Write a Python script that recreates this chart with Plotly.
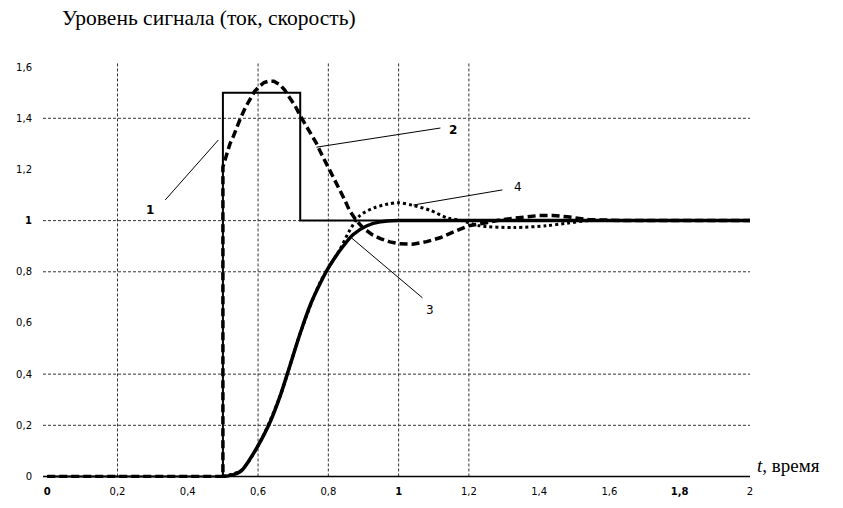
import plotly.graph_objects as go

# Time axis ticks and labels (comma decimal separator)
x_ticks = [0, 0.2, 0.4, 0.6, 0.8, 1.0, 1.2, 1.4, 1.6, 1.8, 2.0]
x_ticktext = ["<b>0</b>", "0,2", "0,4", "0,6", "0,8", "<b>1</b>", "1,2", "1,4", "1,6", "<b>1,8</b>", "2"]
y_ticks = [0, 0.2, 0.4, 0.6, 0.8, 1.0, 1.2, 1.4, 1.6]
y_ticktext = ["0", "0,2", "0,4", "0,6", "0,8", "<b>1</b>", "1,2", "1,4", "1,6"]

# Dotted grid positions
x_grid = [0.2, 0.6, 0.8, 1.0, 1.2]
y_grid = [0.2, 0.4, 0.8, 1.0, 1.4]

# 1 – reference (step forcing)
t1 = [0, 0.5, 0.5, 0.72, 0.72, 2.0]
v1 = [0, 0, 1.5, 1.5, 1.0, 1.0]

# 2 – current
t2 = [0, 0.5, 0.5, 0.51, 0.52, 0.53, 0.54, 0.55, 0.565, 0.578, 0.59, 0.604,
      0.617, 0.63, 0.645, 0.663, 0.676, 0.69, 0.705, 0.72, 0.735, 0.75, 0.765,
      0.777, 0.79, 0.806, 0.82, 0.834, 0.847, 0.86, 0.88, 0.9, 0.925, 0.948,
      0.975, 1.0, 1.04, 1.08, 1.12, 1.15, 1.176, 1.2, 1.25, 1.29, 1.33, 1.37,
      1.40, 1.44, 1.48, 1.54, 1.6, 1.65, 2.0]
v2 = [0, 0, 1.21, 1.26, 1.30, 1.33, 1.37, 1.40, 1.445, 1.48, 1.505, 1.525,
      1.54, 1.545, 1.545, 1.53, 1.51, 1.48, 1.45, 1.41, 1.375, 1.34, 1.305,
      1.27, 1.235, 1.195, 1.157, 1.12, 1.08, 1.04, 1.0, 0.97, 0.945, 0.93,
      0.917, 0.91, 0.908, 0.918, 0.934, 0.952, 0.968, 0.98, 0.992, 1.003, 1.01, 1.016,
      1.02, 1.02, 1.015, 1.004, 1.001, 1.0, 1.0]

# 3 – speed
t3 = [0.5, 0.525, 0.553, 0.578, 0.604, 0.635, 0.663, 0.69, 0.72, 0.75, 0.777,
      0.80, 0.834, 0.87, 0.91, 0.948, 1.0, 1.1, 2.0]
v3 = [0, 0.005, 0.023, 0.07, 0.13, 0.215, 0.315, 0.43, 0.56, 0.675, 0.755,
      0.815, 0.885, 0.945, 0.98, 0.995, 1.0, 1.0, 1.0]

# 4 – speed with overshoot
t4 = [0.5, 0.553, 0.604, 0.663, 0.72, 0.777, 0.834, 0.86, 0.89, 0.93, 0.97,
      1.0, 1.04, 1.09, 1.14, 1.18, 1.23, 1.33, 1.42, 1.48, 1.54, 1.65, 2.0]
v4 = [0, 0.025, 0.13, 0.315, 0.56, 0.76, 0.89, 0.96, 1.02, 1.05, 1.065,
      1.07, 1.06, 1.04, 1.01, 1.0, 0.98, 0.973, 0.98, 0.99, 1.0, 1.0, 1.0]

# Curve labels and leader lines (start -> end)
labels = ["1", "2", "3", "4"]
label_x = [0.293, 1.156, 1.09, 1.341]
label_y = [1.04, 1.354, 0.65, 1.131]
label_bold = [True, True, False, False]
leader_x0 = [0.336, 0.766, 0.863, 1.042]
leader_y0 = [1.081, 1.287, 0.936, 1.061]
leader_x1 = [0.487, 1.119, 1.068, 1.295]
leader_y1 = [1.315, 1.362, 0.698, 1.12]

X_MIN, X_MAX = -0.012, 2.0
Y_MIN, Y_MAX = -0.006, 1.62
SERIF = "Liberation Serif, Times New Roman, DejaVu Serif, serif"

fig = go.Figure()

fig.add_trace(go.Scatter(x=t4, y=v4, mode="lines",
                         line=dict(color="black", width=3, dash="3px,3px",
                                   shape="spline", smoothing=0.8)))
fig.add_trace(go.Scatter(x=t3, y=v3, mode="lines",
                         line=dict(color="black", width=3.5,
                                   shape="spline", smoothing=0.8)))
fig.add_trace(go.Scatter(x=t2, y=v2, mode="lines",
                         line=dict(color="black", width=3.5, dash="8px,4px")))
fig.add_trace(go.Scatter(x=t1, y=v1, mode="lines",
                         line=dict(color="black", width=2)))

shapes = []
for gx in x_grid:
    shapes.append(dict(type="line", xref="x", yref="y", x0=gx, x1=gx, y0=0, y1=Y_MAX,
                       line=dict(color="#333333", width=1, dash="3px,2px"), layer="below"))
for gy in y_grid:
    shapes.append(dict(type="line", xref="x", yref="y", x0=X_MIN, x1=X_MAX, y0=gy, y1=gy,
                       line=dict(color="#333333", width=1, dash="3px,2px"), layer="below"))
# horizontal axis line
shapes.append(dict(type="line", xref="x", yref="y", x0=X_MIN, x1=X_MAX, y0=0, y1=0,
                   line=dict(color="black", width=1.5), layer="below"))
for a, b, c, d in zip(leader_x0, leader_y0, leader_x1, leader_y1):
    shapes.append(dict(type="line", xref="x", yref="y", x0=a, y0=b, x1=c, y1=d,
                       line=dict(color="black", width=1)))

annotations = []
for txt, lx, ly, bold in zip(labels, label_x, label_y, label_bold):
    annotations.append(dict(x=lx, y=ly, xref="x", yref="y", showarrow=False,
                            text=f"<b>{txt}</b>" if bold else txt,
                            font=dict(family="DejaVu Sans", size=12, color="black")))
annotations.append(dict(x=60, y=18, xref="paper", yref="paper", showarrow=False,
                        text="Уровень сигнала (ток, скорость)", xanchor="left", yanchor="middle",
                        font=dict(family=SERIF, size=21.5, color="black")))
annotations.append(dict(x=755, y=465, xref="paper", yref="paper", showarrow=False,
                        text="<i>t</i>, время", xanchor="left", yanchor="middle",
                        font=dict(family=SERIF, size=19, color="black")))

# convert pixel-placed paper annotations
W, H = 843, 508
ML, MR, MT, MB = 43, 93, 62, 30
for ann in annotations:
    if ann["xref"] == "paper":
        ann["x"] = (ann["x"] - ML) / (W - ML - MR)
        ann["y"] = 1 - (ann["y"] - MT) / (H - MT - MB)

fig.update_layout(
    width=W, height=H,
    margin=dict(l=ML, r=MR, t=MT, b=MB),
    paper_bgcolor="white", plot_bgcolor="white",
    showlegend=False,
    shapes=shapes,
    annotations=annotations,
    xaxis=dict(range=[X_MIN, X_MAX], tickmode="array", tickvals=x_ticks, ticktext=x_ticktext,
               showgrid=False, zeroline=False, showline=False, ticks="",
               ticklabelstandoff=6,
               tickfont=dict(family="DejaVu Sans", size=10, color="black")),
    yaxis=dict(range=[Y_MIN, Y_MAX], tickmode="array", tickvals=y_ticks, ticktext=y_ticktext,
               showgrid=False, zeroline=False, showline=False, ticks="",
               ticklabelstandoff=10,
               tickfont=dict(family="DejaVu Sans", size=10, color="black")),
)

fig.write_html("out.html")
